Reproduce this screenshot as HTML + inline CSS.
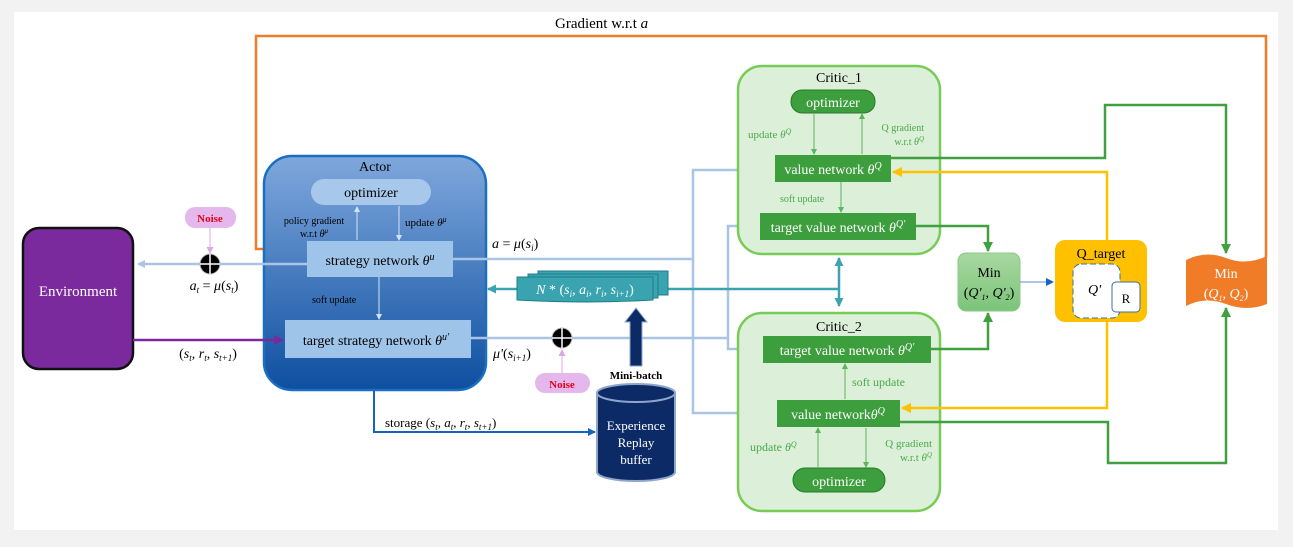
<!DOCTYPE html>
<html><head><meta charset="utf-8"><style>
html,body{margin:0;padding:0;background:#f2f2f2;}
svg{display:block;font-family:"Liberation Serif",serif;}
.m{font-style:italic;}
</style></head><body>
<svg width="1293" height="547" viewBox="0 0 1293 547" xmlns="http://www.w3.org/2000/svg">
<defs>
<linearGradient id="ag" x1="0" y1="0" x2="0" y2="1"><stop offset="0" stop-color="#7fa8dc"/><stop offset="1" stop-color="#0e4fa0"/></linearGradient>
<linearGradient id="mg" x1="0" y1="0" x2="0" y2="1"><stop offset="0" stop-color="#a8d8a0"/><stop offset="1" stop-color="#7cc47a"/></linearGradient>
<marker id="aLB" markerWidth="8" markerHeight="8" refX="7" refY="4" orient="auto" markerUnits="userSpaceOnUse"><path d="M0,0 L8,4 L0,8 z" fill="#a9c4e4"/></marker>
<marker id="aO" markerWidth="10" markerHeight="10" refX="9" refY="5" orient="auto" markerUnits="userSpaceOnUse"><path d="M0,0 L10,5 L0,10 z" fill="#f07c28"/></marker>
<marker id="aP" markerWidth="10" markerHeight="10" refX="9" refY="5" orient="auto" markerUnits="userSpaceOnUse"><path d="M0,0 L10,5 L0,10 z" fill="#7b2a9e"/></marker>
<marker id="aG" markerWidth="10" markerHeight="10" refX="9" refY="5" orient="auto" markerUnits="userSpaceOnUse"><path d="M0,0 L10,5 L0,10 z" fill="#3fa03f"/></marker>
<marker id="ag2" markerWidth="6" markerHeight="6" refX="5" refY="3" orient="auto" markerUnits="userSpaceOnUse"><path d="M0,0 L6,3 L0,6 z" fill="#5cb55c"/></marker>
<marker id="aY" markerWidth="10" markerHeight="10" refX="9" refY="5" orient="auto" markerUnits="userSpaceOnUse"><path d="M0,0 L10,5 L0,10 z" fill="#ffc000"/></marker>
<marker id="aT" markerWidth="9" markerHeight="9" refX="8" refY="4.5" orient="auto-start-reverse" markerUnits="userSpaceOnUse"><path d="M0,0 L9,4.5 L0,9 z" fill="#3aa3b0"/></marker>
<marker id="aB" markerWidth="8" markerHeight="8" refX="7" refY="4" orient="auto" markerUnits="userSpaceOnUse"><path d="M0,0 L8,4 L0,8 z" fill="#1565c0"/></marker>
<marker id="aW" markerWidth="6" markerHeight="6" refX="5" refY="3" orient="auto" markerUnits="userSpaceOnUse"><path d="M0,0 L6,3 L0,6 z" fill="#d0e4f7"/></marker>
<marker id="aPk" markerWidth="7" markerHeight="7" refX="6" refY="3.5" orient="auto" markerUnits="userSpaceOnUse"><path d="M0,0 L7,3.5 L0,7 z" fill="#d9a8e6"/></marker>
</defs>
<rect x="14" y="12" width="1264" height="518" fill="#fff"/>

<!-- orange gradient loop -->
<text x="555" y="28" font-size="15">Gradient  w.r.t <tspan class="m">a</tspan></text>
<path d="M1266,258 V36 H256 V249 H305" fill="none" stroke="#f07c28" stroke-width="2.5" marker-end="url(#aO)"/>

<!-- Environment -->
<rect x="23" y="228" width="110" height="141" rx="16" fill="#7b2a9e" stroke="#111" stroke-width="2.5"/>
<text x="78" y="296" fill="#fff" font-size="15" text-anchor="middle">Environment</text>

<!-- Actor -->
<rect x="264" y="156" width="222" height="234" rx="28" fill="url(#ag)" stroke="#1a6fc4" stroke-width="2.5"/>
<text x="375" y="171" font-size="14" text-anchor="middle">Actor</text>
<rect x="311" y="179" width="120" height="26" rx="13" fill="#a7c8ea"/>
<text x="371" y="197" font-size="14" text-anchor="middle">optimizer</text>
<line x1="357" y1="240" x2="357" y2="207" stroke="#d0e4f7" marker-end="url(#aW)"/>
<line x1="399" y1="206" x2="399" y2="240" stroke="#d0e4f7" marker-end="url(#aW)"/>
<text x="314" y="224" font-size="10" text-anchor="middle">policy gradient</text>
<text x="314" y="237" font-size="10" text-anchor="middle">w.r.t <tspan class="m">θ</tspan><tspan font-size="7" dy="-4" class="m">μ</tspan></text>
<text x="405" y="226" font-size="11">update <tspan class="m">θ</tspan><tspan font-size="8" dy="-4" class="m">μ</tspan></text>
<rect x="307" y="241" width="146" height="36" fill="#9fc4ea"/>
<text x="380" y="265" font-size="14" text-anchor="middle">strategy network <tspan class="m">θ</tspan><tspan font-size="10" dy="-5" class="m">u</tspan></text>
<line x1="379" y1="277" x2="379" y2="319" stroke="#d0e4f7" marker-end="url(#aW)"/>
<text x="312" y="303" font-size="10">soft update</text>
<rect x="285" y="320" width="186" height="38" fill="#9fc4ea"/>
<text x="376" y="345" font-size="14" text-anchor="middle">target strategy network <tspan class="m">θ</tspan><tspan font-size="10" dy="-5" class="m">u'</tspan></text>

<!-- Noise top + action to env -->
<line x1="307" y1="264" x2="138" y2="264" stroke="#a9c4e4" stroke-width="2.5" marker-end="url(#aLB)"/>
<rect x="185" y="207" width="51" height="21" rx="10" fill="#e4b8ec"/>
<text x="210" y="222" font-size="11" font-weight="bold" fill="#e8001a" text-anchor="middle">Noise</text>
<line x1="210" y1="228" x2="210" y2="253" stroke="#d9a8e6" marker-end="url(#aPk)"/>
<circle cx="210" cy="264" r="10" fill="#000" stroke="#bbb"/>
<path d="M200,264 H220 M210,254 V274" stroke="#fff" stroke-width="1.5"/>
<text x="214" y="290" font-size="14" text-anchor="middle" class="m">a<tspan font-size="9" dy="3">t</tspan><tspan dy="-3" font-style="normal"> = </tspan>μ<tspan font-style="normal">(</tspan>s<tspan font-size="9" dy="3">t</tspan><tspan dy="-3" font-style="normal">)</tspan></text>

<line x1="133" y1="340" x2="283" y2="340" stroke="#7b2a9e" stroke-width="2.5" marker-end="url(#aP)"/>
<text x="208" y="358" font-size="14" text-anchor="middle" class="m"><tspan font-style="normal">(</tspan>s<tspan font-size="9" dy="3">t</tspan><tspan dy="-3" font-style="normal">, </tspan>r<tspan font-size="9" dy="3">t</tspan><tspan dy="-3" font-style="normal">, </tspan>s<tspan font-size="9" dy="3">t+1</tspan><tspan dy="-3" font-style="normal">)</tspan></text>

<!-- light-blue critic inputs -->
<path d="M453,259 H693 V170 H771" fill="none" stroke="#a9c4e4" stroke-width="2.5" marker-end="url(#aLB)"/>
<path d="M693,259 V413 H775" fill="none" stroke="#a9c4e4" stroke-width="2.5" marker-end="url(#aLB)"/>
<path d="M471,338 H728 V226 H758" fill="none" stroke="#a9c4e4" stroke-width="2.5" marker-end="url(#aLB)"/>
<path d="M728,338 V349 H761" fill="none" stroke="#a9c4e4" stroke-width="2.5" marker-end="url(#aLB)"/>
<text x="492" y="248" font-size="14" class="m">a<tspan font-style="normal"> = </tspan>μ<tspan font-style="normal">(</tspan>s<tspan font-size="9" dy="3">i</tspan><tspan dy="-3" font-style="normal">)</tspan></text>
<text x="493" y="358" font-size="14" class="m">μ'<tspan font-style="normal">(</tspan>s<tspan font-size="9" dy="3">i+1</tspan><tspan dy="-3" font-style="normal">)</tspan></text>

<circle cx="562" cy="338" r="10" fill="#000" stroke="#bbb"/>
<path d="M552,338 H572 M562,328 V348" stroke="#fff" stroke-width="1.5"/>
<line x1="562" y1="373" x2="562" y2="350" stroke="#d9a8e6" marker-end="url(#aPk)"/>
<rect x="535" y="373" width="55" height="20" rx="10" fill="#e4b8ec"/>
<text x="562" y="388" font-size="11" font-weight="bold" fill="#e8001a" text-anchor="middle">Noise</text>

<!-- mini batch -->
<line x1="668" y1="289" x2="839" y2="289" stroke="#3aa3b0" stroke-width="2.5"/>
<line x1="839" y1="258" x2="839" y2="306" stroke="#3aa3b0" stroke-width="2.5" marker-start="url(#aT)" marker-end="url(#aT)"/>
<line x1="517" y1="289" x2="488" y2="289" stroke="#3aa3b0" stroke-width="2.5" marker-end="url(#aT)"/>
<rect x="538" y="271" width="130" height="24" fill="#3aa3b0" stroke="#1f7c88"/>
<rect x="528" y="274" width="130" height="24" fill="#3aa3b0" stroke="#1f7c88"/>
<path d="M517,277 H653 V300 Q590,304 517,300 z" fill="#3aa3b0" stroke="#1f7c88"/>
<text x="585" y="294" font-size="14" fill="#fff" text-anchor="middle" class="m">N<tspan font-style="normal"> * (</tspan>s<tspan font-size="9" dy="3">i</tspan><tspan dy="-3" font-style="normal">, </tspan>a<tspan font-size="9" dy="3">i</tspan><tspan dy="-3" font-style="normal">, </tspan>r<tspan font-size="9" dy="3">i</tspan><tspan dy="-3" font-style="normal">, </tspan>s<tspan font-size="9" dy="3">i+1</tspan><tspan dy="-3" font-style="normal">)</tspan></text>
<path d="M630,366 V322 H625 L636,308 L647,322 H642 V366 z" fill="#0c2a66" stroke="#8fa6cc"/>
<text x="636" y="379" font-size="11" font-weight="bold" text-anchor="middle">Mini-batch</text>

<!-- cylinder -->
<path d="M597,393 V472 A39,9 0 0 0 675,472 V393" fill="#0c2a66" stroke="#8fa6cc" stroke-width="2"/>
<ellipse cx="636" cy="393" rx="39" ry="9" fill="#0c2a66" stroke="#8fa6cc" stroke-width="2"/>
<text x="636" y="430" font-size="13" fill="#fff" text-anchor="middle">Experience</text>
<text x="636" y="447" font-size="13" fill="#fff" text-anchor="middle">Replay</text>
<text x="636" y="464" font-size="13" fill="#fff" text-anchor="middle">buffer</text>
<path d="M374,390 V432 H595" fill="none" stroke="#1565c0" stroke-width="2" marker-end="url(#aB)"/>
<text x="385" y="427" font-size="13">storage  <tspan class="m"><tspan font-style="normal">(</tspan>s<tspan font-size="9" dy="3">t</tspan><tspan dy="-3" font-style="normal">, </tspan>a<tspan font-size="9" dy="3">t</tspan><tspan dy="-3" font-style="normal">, </tspan>r<tspan font-size="9" dy="3">t</tspan><tspan dy="-3" font-style="normal">, </tspan>s<tspan font-size="9" dy="3">t+1</tspan><tspan dy="-3" font-style="normal">)</tspan></tspan></text>

<!-- Critic 1 -->
<rect x="738" y="66" width="202" height="188" rx="24" fill="#dcefd8" stroke="#77cc55" stroke-width="2.5"/>
<text x="839" y="82" font-size="14" text-anchor="middle">Critic_1</text>
<rect x="791" y="90" width="84" height="23" rx="11" fill="#3c9e3c" stroke="#2a7a2a"/>
<text x="833" y="107" font-size="14" fill="#fff" text-anchor="middle">optimizer</text>
<line x1="814" y1="114" x2="814" y2="154" stroke="#5cb55c" marker-end="url(#ag2)"/>
<line x1="862" y1="154" x2="862" y2="114" stroke="#5cb55c" marker-end="url(#ag2)"/>
<text x="748" y="138" font-size="11" fill="#4aaa4a">update <tspan class="m">θ</tspan><tspan font-size="8" dy="-4" class="m">Q</tspan></text>
<text x="924" y="131" font-size="10" fill="#4aaa4a" text-anchor="end">Q gradient</text>
<text x="924" y="145" font-size="10" fill="#4aaa4a" text-anchor="end">w.r.t <tspan class="m">θ</tspan><tspan font-size="7" dy="-4" class="m">Q</tspan></text>
<rect x="775" y="155" width="116" height="27" fill="#3c9e3c"/>
<text x="833" y="174" font-size="14" fill="#fff" text-anchor="middle">value network <tspan class="m">θ</tspan><tspan font-size="10" dy="-5" class="m">Q</tspan></text>
<line x1="841" y1="182" x2="841" y2="212" stroke="#5cb55c" marker-end="url(#ag2)"/>
<text x="780" y="202" font-size="10" fill="#4aaa4a">soft update</text>
<rect x="760" y="213" width="156" height="27" fill="#3c9e3c"/>
<text x="838" y="232" font-size="14" fill="#fff" text-anchor="middle">target value network <tspan class="m">θ</tspan><tspan font-size="10" dy="-5" class="m">Q'</tspan></text>

<!-- Critic 2 -->
<rect x="738" y="313" width="202" height="198" rx="24" fill="#dcefd8" stroke="#77cc55" stroke-width="2.5"/>
<text x="839" y="331" font-size="14" text-anchor="middle">Critic_2</text>
<rect x="763" y="336" width="168" height="27" fill="#3c9e3c"/>
<text x="847" y="355" font-size="14" fill="#fff" text-anchor="middle">target value network <tspan class="m">θ</tspan><tspan font-size="10" dy="-5" class="m">Q'</tspan></text>
<line x1="845" y1="399" x2="845" y2="364" stroke="#5cb55c" marker-end="url(#ag2)"/>
<text x="852" y="386" font-size="12" fill="#4aaa4a">soft update</text>
<rect x="777" y="400" width="123" height="27" fill="#3c9e3c"/>
<text x="838" y="419" font-size="14" fill="#fff" text-anchor="middle">value network<tspan class="m">θ</tspan><tspan font-size="10" dy="-5" class="m">Q</tspan></text>
<line x1="818" y1="467" x2="818" y2="428" stroke="#5cb55c" marker-end="url(#ag2)"/>
<line x1="866" y1="428" x2="866" y2="467" stroke="#5cb55c" marker-end="url(#ag2)"/>
<text x="750" y="451" font-size="12" fill="#4aaa4a">update <tspan class="m">θ</tspan><tspan font-size="8" dy="-4" class="m">Q</tspan></text>
<text x="932" y="447" font-size="11" fill="#4aaa4a" text-anchor="end">Q gradient</text>
<text x="932" y="461" font-size="11" fill="#4aaa4a" text-anchor="end">w.r.t <tspan class="m">θ</tspan><tspan font-size="7" dy="-4" class="m">Q</tspan></text>
<rect x="793" y="468" width="92" height="24" rx="12" fill="#3c9e3c" stroke="#2a7a2a"/>
<text x="839" y="486" font-size="14" fill="#fff" text-anchor="middle">optimizer</text>

<!-- green lines -->
<path d="M916,226 H988 V251" fill="none" stroke="#3fa03f" stroke-width="2.5" marker-end="url(#aG)"/>
<path d="M931,349 H988 V313" fill="none" stroke="#3fa03f" stroke-width="2.5" marker-end="url(#aG)"/>
<path d="M891,158 H1105 V105 H1226 V253" fill="none" stroke="#3fa03f" stroke-width="2.5" marker-end="url(#aG)"/>
<path d="M900,422 H1108 V463 H1226 V308" fill="none" stroke="#3fa03f" stroke-width="2.5" marker-end="url(#aG)"/>
<!-- yellow -->
<path d="M1107,240 V172 H893" fill="none" stroke="#ffc000" stroke-width="2.5" marker-end="url(#aY)"/>
<path d="M1107,322 V408 H902" fill="none" stroke="#ffc000" stroke-width="2.5" marker-end="url(#aY)"/>

<!-- Min Q' -->
<rect x="958" y="253" width="62" height="58" rx="8" fill="url(#mg)" stroke="#8cc88a"/>
<text x="989" y="277" font-size="14" text-anchor="middle">Min</text>
<text x="989" y="297" font-size="14" text-anchor="middle" class="m"><tspan font-style="normal">(</tspan>Q'<tspan font-size="8" dy="3">1</tspan><tspan dy="-3" font-style="normal">, </tspan>Q'<tspan font-size="8" dy="3">2</tspan><tspan dy="-3" font-style="normal">)</tspan></text>
<line x1="1020" y1="282" x2="1053" y2="282" stroke="#5b8fd0" marker-end="url(#aB)"/>

<!-- Q_target -->
<rect x="1055" y="240" width="92" height="82" rx="10" fill="#ffc000"/>
<text x="1101" y="258" font-size="14" text-anchor="middle">Q_target</text>
<rect x="1073" y="264" width="47" height="54" rx="8" fill="#fff" stroke="#3a6ea8" stroke-dasharray="6,3"/>
<text x="1088" y="294" font-size="14" class="m">Q'</text>
<rect x="1112" y="282" width="28" height="30" rx="4" fill="#fff" stroke="#3a6ea8"/>
<text x="1126" y="303" font-size="13" text-anchor="middle">R</text>

<!-- Min Q orange -->
<path d="M1186,260 Q1206,250 1226,258 T1267,256 V304 Q1247,312 1226,304 T1186,306 z" fill="#f07c28"/>
<text x="1226" y="278" font-size="14" fill="#fff" text-anchor="middle">Min</text>
<text x="1226" y="298" font-size="14" fill="#fff" text-anchor="middle" class="m"><tspan font-style="normal">(</tspan>Q<tspan font-size="8" dy="3">1</tspan><tspan dy="-3" font-style="normal">, </tspan>Q<tspan font-size="8" dy="3">2</tspan><tspan dy="-3" font-style="normal">)</tspan></text>
</svg>
</body></html>
